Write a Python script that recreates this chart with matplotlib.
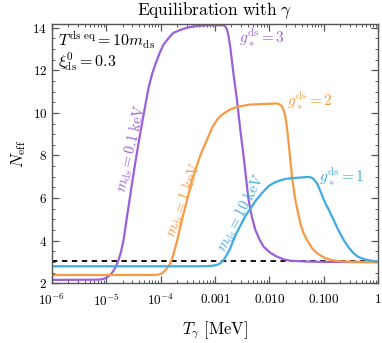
import numpy as np
import matplotlib
matplotlib.use('Agg')
import matplotlib.pyplot as plt
from matplotlib.ticker import MultipleLocator, FixedLocator, FixedFormatter, LogLocator, NullFormatter

plt.rcParams['mathtext.fontset'] = 'cm'
plt.rcParams['font.family'] = ['cmr10', 'DejaVu Serif']
plt.rcParams['axes.formatter.use_mathtext'] = True

# log10(T_gamma / MeV) and N_eff
logT_01 = [-6.0, -5.2, -5.111, -5.05, -5.0, -4.958, -4.91, -4.866, -4.82, -4.774,
           -4.728, -4.682, -4.627, -4.572, -4.517, -4.461, -4.406, -4.314, -4.222, -4.16,
           -4.099, -4.02, -3.946, -3.85, -3.762, -3.6, -3.455, -3.3, -3.147, -2.842,
           -2.81, -2.779, -2.75, -2.718, -2.658, -2.595, -2.534, -2.474, -2.382, -2.32,
           -2.258, -2.18, -2.105, -1.98, -1.859, -1.74, -1.614, -1.4, -1.123, 0.0]
neff_01 = [2.16, 2.17, 2.18, 2.21, 2.26, 2.33, 2.44, 2.6, 2.82, 3.1,
           3.5, 4.04, 5.0, 5.92, 6.85, 7.75, 8.6, 9.92, 11.18, 11.8,
           12.27, 12.8, 13.21, 13.52, 13.76, 13.93, 14.03, 14.08, 14.11, 14.11,
           14.05, 13.92, 13.6, 13.06, 11.8, 10.6, 9.2, 7.96, 5.92, 5.1,
           4.51, 4.05, 3.72, 3.43, 3.25, 3.13, 3.06, 3.03, 3.01, 2.99]

logT_1 = [-6.0, -4.191, -4.068, -4.02, -3.975, -3.93, -3.883, -3.84, -3.823, -3.791,
          -3.749, -3.688, -3.607, -3.515, -3.423, -3.331, -3.271, -3.147, -3.055, -2.963,
          -2.902, -2.81, -2.718, -2.626, -2.534, -2.35, -2.074, -1.859, -1.81, -1.767,
          -1.736, -1.706, -1.675, -1.645, -1.583, -1.522, -1.43, -1.37, -1.307, -1.215,
          -1.123, -1.0, -0.878, -0.75, -0.633, 0.0]
neff_1 = [2.39, 2.39, 2.4, 2.42, 2.47, 2.57, 2.71, 2.88, 2.95, 3.15,
          3.5, 4.1, 5.0, 5.9, 6.85, 7.55, 8.0, 8.74, 9.29, 9.67,
          9.85, 10.02, 10.16, 10.25, 10.31, 10.39, 10.42, 10.44, 10.4, 10.31,
          10.12, 9.84, 9.3, 8.59, 7.02, 5.92, 4.82, 4.35, 4.04, 3.65,
          3.41, 3.22, 3.1, 3.05, 3.02, 3.0]

logT_10 = [-6.0, -3.271, -3.1, -3.026, -2.96, -2.902, -2.84, -2.779, -2.718, -2.658,
           -2.6, -2.534, -2.442, -2.35, -2.258, -2.135, -2.019, -1.94, -1.859, -1.706,
           -1.553, -1.4, -1.307, -1.25, -1.209, -1.17, -1.12, -1.08, -1.04, -1.001,
           -0.958, -0.915, -0.86, -0.817, -0.731, -0.633, -0.546, -0.449, -0.38, -0.326,
           -0.26, -0.202, -0.1, 0.0]
neff_10 = [2.8, 2.8, 2.81, 2.83, 2.87, 2.94, 3.1, 3.35, 3.65, 4.04,
           4.38, 4.7, 5.15, 5.5, 5.85, 6.24, 6.55, 6.68, 6.78, 6.9,
           6.94, 6.97, 6.99, 6.98, 6.94, 6.85, 6.68, 6.45, 6.2, 5.95,
           5.7, 5.5, 5.2, 4.98, 4.5, 4.04, 3.7, 3.41, 3.27, 3.2,
           3.14, 3.1, 3.05, 3.02]

neff_sm = 3.045
xtick_vals = [1e-6, 1e-5, 1e-4, 1e-3, 1e-2, 1e-1, 1]
xtick_labels = [r'$10^{-6}$', r'$10^{-5}$', r'$10^{-4}$', r'$0.001$', r'$0.010$', r'$0.100$', r'$1$']
ytick_vals = [2, 4, 6, 8, 10, 12, 14]

purple = '#9c5fdc'
orange = '#f79a43'
blue = '#42aae2'

fig = plt.figure(figsize=(3.82, 3.43), dpi=100)
ax = fig.add_axes([0.1361, 0.174, 0.8534, 0.756])

ax.plot(np.power(10.0, logT_01), neff_01, color=purple, lw=1.6)
ax.plot(np.power(10.0, logT_1), neff_1, color=orange, lw=1.6)
ax.plot(np.power(10.0, logT_10), neff_10, color=blue, lw=1.6)
ax.axhline(neff_sm, color='black', ls=(0, (3, 2.5)), lw=1.3, zorder=0.5)

ax.set_xscale('log')
ax.set_xlim(1e-6, 1)
ax.set_ylim(2, 14.17)
ax.xaxis.set_major_locator(FixedLocator(xtick_vals))
ax.xaxis.set_major_formatter(FixedFormatter(xtick_labels))
ax.xaxis.set_minor_locator(LogLocator(base=10, subs=np.arange(2, 10), numticks=20))
ax.xaxis.set_minor_formatter(NullFormatter())
ax.set_yticks(ytick_vals)
ax.set_yticklabels([r'$%d$' % v for v in ytick_vals])
ax.yaxis.set_minor_locator(MultipleLocator(0.5))

ax.tick_params(which='both', direction='in', top=True, right=True, colors='#555555',
               labelcolor='black', labelsize=9.5)
ax.tick_params(which='major', length=5, width=0.9)
ax.tick_params(which='minor', length=2.5, width=0.7)
ax.tick_params(axis='x', which='major', pad=7)
for s in ax.spines.values():
    s.set_color('#555555')
    s.set_linewidth(1.0)

ax.set_title(r'$\mathrm{Equilibration\ with\ }\gamma$', fontsize=12.5, pad=6)
ax.set_xlabel(r'$T_\gamma\ [\mathrm{MeV}]$', fontsize=12, labelpad=7)
ax.set_ylabel(r'$N_{\rm eff}$', fontsize=12, labelpad=3)

ax.text(0.018, 0.938, r'$T^{\rm ds\ eq} = 10 m_{\rm ds}$', transform=ax.transAxes,
        fontsize=11.5, va='center', ha='left')
ax.text(0.018, 0.853, r'$\xi^0_{\rm ds} = 0.3$', transform=ax.transAxes,
        fontsize=11.5, va='center', ha='left')

ax.text(0.575, 0.945, r'$g_*^{\rm ds} = 3$', transform=ax.transAxes, color=purple,
        fontsize=11, va='center', ha='left')
ax.text(0.72, 0.705, r'$g_*^{\rm ds} = 2$', transform=ax.transAxes, color=orange,
        fontsize=11, va='center', ha='left')
ax.text(0.82, 0.41, r'$g_*^{\rm ds} = 1$', transform=ax.transAxes, color=blue,
        fontsize=11, va='center', ha='left')

ax.text(0.245, 0.522, r'$m_{\rm ds} = 0.1\ \mathrm{keV}$', transform=ax.transAxes, color=purple,
        fontsize=10.5, va='center', ha='center', rotation=77)
ax.text(0.404, 0.32, r'$m_{\rm ds} = 1\ \mathrm{keV}$', transform=ax.transAxes, color=orange,
        fontsize=10.5, va='center', ha='center', rotation=70)
ax.text(0.582, 0.27, r'$m_{\rm ds} = 10\ \mathrm{keV}$', transform=ax.transAxes, color=blue,
        fontsize=10.5, va='center', ha='center', rotation=62)

fig.savefig('out.png', dpi=100)
